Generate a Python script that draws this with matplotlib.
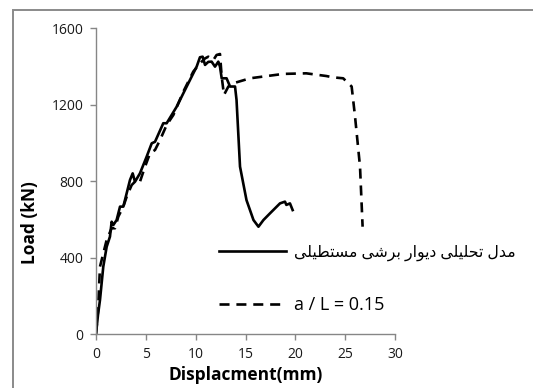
import matplotlib
matplotlib.use("Agg")
import matplotlib.pyplot as plt
from matplotlib.patches import Rectangle
from matplotlib.font_manager import FontProperties

# ---------------- data ----------------
solid_x = [0, 0.2, 0.4, 0.73, 1.07, 1.4, 1.57, 1.74, 2.07, 2.41, 2.74, 3.41, 3.68, 3.91, 4.41,
           5.08, 5.59, 5.92, 6.75, 7.09, 8.1, 9.1, 10.1, 10.43, 10.7, 10.94, 11.27, 11.6,
           11.94, 12.27, 12.44, 12.61, 13.1, 13.45, 13.95, 14.1, 14.45, 15.1, 15.8, 16.3,
           16.8, 17.46, 18.46, 18.96, 19.1, 19.46, 19.73]
solid_y = [0, 100, 178, 352, 456, 509, 587, 570, 596, 666, 666, 805, 840, 796, 840,
           927, 997, 1005, 1102, 1102, 1189, 1294, 1398, 1447, 1450, 1407, 1423, 1424,
           1398, 1424, 1398, 1337, 1337, 1294, 1294, 1224, 875, 700, 596, 561,
           596, 631, 683, 692, 675, 683, 648]

dash_x = [0, 0.2, 0.4, 1.07, 1.57, 1.91, 2.24, 2.74, 3.08, 3.58, 4.08, 4.41, 4.92, 5.42,
          5.92, 6.42, 7.09, 7.76, 8.76, 9.76, 10.43, 10.94, 11.27, 11.77, 12.1, 12.44,
          12.61, 12.84, 13.28, 13.78, 15.45, 18.8, 21.1, 23.1, 23.78, 24.8, 25.65, 25.99,
          26.49, 26.75]
dash_y = [0, 120, 352, 492, 553, 553, 614, 666, 718, 779, 805, 796, 875, 945,
          962, 1014, 1093, 1145, 1267, 1372, 1415, 1441, 1450, 1432, 1459, 1464,
          1346, 1250, 1294, 1311, 1337, 1360, 1363, 1349, 1342, 1337, 1294, 1137,
          875, 561]

label_solid = "مدل تحلیلی دیوار برشی مستطیلی"
label_dash = "a / L = 0.15"
x_ticks = [0, 5, 10, 15, 20, 25, 30]
y_ticks = [0, 400, 800, 1200, 1600]
x_label = "Displacment(mm)"
y_label = "Load (kN)"

# ---------------- simple Persian shaping (visual order) ----------------
FORMS = {  # iso, fin, ini, med
    'م': ('\uFEE1', '\uFEE2', '\uFEE3', '\uFEE4'),
    'د': ('\uFEA9', '\uFEAA', None, None),
    'ل': ('\uFEDD', '\uFEDE', '\uFEDF', '\uFEE0'),
    'ت': ('\uFE95', '\uFE96', '\uFE97', '\uFE98'),
    'ح': ('\uFEA1', '\uFEA2', '\uFEA3', '\uFEA4'),
    'ی': ('\uFEEF', '\uFEF0', '\uFEF3', '\uFEF4'),
    'و': ('\uFEED', '\uFEEE', None, None),
    'ا': ('\uFE8D', '\uFE8E', None, None),
    'ر': ('\uFEAD', '\uFEAE', None, None),
    'ب': ('\uFE8F', '\uFE90', '\uFE91', '\uFE92'),
    'ش': ('\uFEB5', '\uFEB6', '\uFEB7', '\uFEB8'),
    'س': ('\uFEB1', '\uFEB2', '\uFEB3', '\uFEB4'),
    'ط': ('\uFEC1', '\uFEC2', '\uFEC3', '\uFEC4'),
}


def dual(c):
    return c in FORMS and FORMS[c][2] is not None


def shape(text):
    out = []
    for word in text.split(' '):
        res = []
        for i, c in enumerate(word):
            if c not in FORMS:
                res.append(c)
                continue
            prev_j = i > 0 and dual(word[i - 1])
            next_j = dual(c) and i < len(word) - 1 and word[i + 1] in FORMS
            iso, fin, ini, med = FORMS[c]
            if prev_j and next_j:
                res.append(med)
            elif prev_j:
                res.append(fin)
            elif next_j:
                res.append(ini)
            else:
                res.append(iso)
        out.append(''.join(res))
    return ' '.join(out)[::-1]


# ---------------- plot ----------------
plt.rcParams['font.family'] = ['Open Sans', 'DejaVu Sans']
fig = plt.figure(figsize=(5.33, 3.88), dpi=100)
ax = fig.add_axes([96 / 533, 1 - 334 / 388, 299 / 533, 306 / 388])

ax.plot(solid_x, solid_y, color='black', lw=1.9, solid_joinstyle='round',
        label=shape(label_solid))
ax.plot(dash_x, dash_y, color='black', lw=1.9, dashes=(3.8, 2.6), label=label_dash)

ax.set_xlim(0, 30)
ax.set_ylim(0, 1600)
ax.set_xticks(x_ticks)
ax.set_yticks(y_ticks)
gray = '#868686'
for s in ['top', 'right']:
    ax.spines[s].set_visible(False)
for s in ['left', 'bottom']:
    ax.spines[s].set_color(gray)
    ax.spines[s].set_linewidth(1.0)
ax.tick_params(direction='out', length=4, width=1.0, color=gray,
               labelsize=10, labelcolor='#1a1a1a', pad=5)
ax.set_xlabel(x_label, fontsize=12.5, fontweight='bold')
ax.set_ylabel(y_label, fontsize=12.5, fontweight='bold')
ax.xaxis.set_label_coords(0.5, -0.105)
ax.yaxis.set_label_coords(-0.19, 0.365)

leg = ax.legend(loc='upper left', bbox_to_anchor=(212 / 533, 1 - 237 / 388),
                bbox_transform=fig.transFigure, frameon=False,
                prop=FontProperties(family=['Open Sans', 'DejaVu Sans'], size=13),
                handlelength=3.7, handletextpad=0.45, labelspacing=1.95,
                borderaxespad=0)
leg.get_texts()[0].set_fontsize(11.3)

fig.add_artist(Rectangle((13 / 533, -0.1), 1.2, 1.1 - 10.5 / 388,
                         transform=fig.transFigure, fill=False,
                         edgecolor='#8a8a8a', lw=1.4))

fig.savefig('out.png', dpi=100)
